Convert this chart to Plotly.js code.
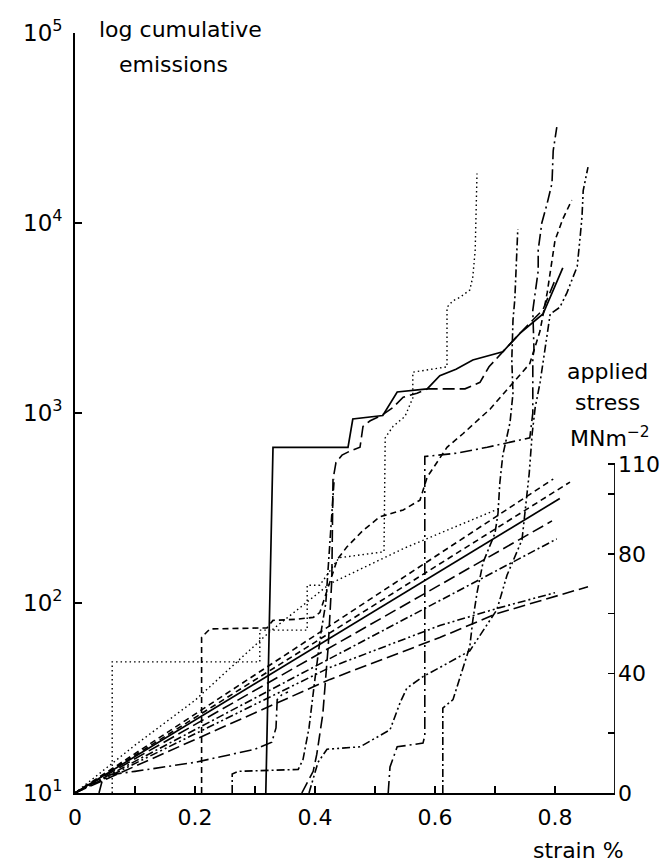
<!DOCTYPE html>
<html>
<head>
<meta charset="utf-8">
<script src="https://cdn.plot.ly/plotly-3.0.1.min.js"></script>
<style>html,body{margin:0;padding:0;background:#fff;}#chart{width:662px;height:865px;}</style>
</head>
<body>
<div id="chart"></div>
<script>
// ---- axis ticks ----
const strainTicks = [0, 0.2, 0.4, 0.6, 0.8];
const strainTickText = ['0', '0.2', '0.4', '0.6', '0.8'];
const strainMinorTicks = [0.1, 0.3, 0.5, 0.7];
const countTicks = [10, 100, 1000, 10000, 100000];
const countTickText = ['10<sup>1</sup>', '10<sup>2</sup>', '10<sup>3</sup>', '10<sup>4</sup>', '10<sup>5</sup>'];
const stressTicks = [0, 40, 80, 110];
const stressTickText = ['0', '40', '80', '110'];
const stressMinorTicks = [20, 60, 100];

// ---- log cumulative emissions (strain %, counts) ----
const emSolidX = [0.318, 0.33, 0.455, 0.463, 0.513, 0.537, 0.587, 0.608, 0.635, 0.663, 0.713, 0.742, 0.78, 0.813];
const emSolidY = [10, 660, 660, 930, 970, 1290, 1340, 1570, 1700, 1900, 2100, 2630, 3320, 5800];

const emDotX = [0.062, 0.062, 0.308, 0.308, 0.387, 0.387, 0.408, 0.44, 0.515, 0.517, 0.53, 0.55, 0.563, 0.563, 0.62, 0.62, 0.63, 0.642, 0.658, 0.663, 0.667, 0.67];
const emDotY = [10, 49, 49, 72, 72, 124, 124, 173, 186, 740, 850, 960, 1200, 1640, 1750, 3600, 3900, 4070, 4440, 5200, 7200, 18200];

const emDashX = [0.211, 0.211, 0.225, 0.32, 0.33, 0.367, 0.397, 0.408, 0.437, 0.453, 0.48, 0.508, 0.547, 0.575, 0.587, 0.62, 0.647, 0.67, 0.692, 0.758, 0.775, 0.787, 0.795, 0.80, 0.813, 0.828];
const emDashY = [10, 66, 73, 74, 81, 82, 84, 89, 169, 197, 241, 284, 309, 348, 460, 660, 780, 910, 1050, 1820, 2700, 4300, 6300, 8100, 10500, 13200];

const emLongDashDotX = [0.522, 0.525, 0.537, 0.58, 0.583, 0.583, 0.637, 0.687, 0.758, 0.763, 0.763, 0.765, 0.763, 0.767, 0.772, 0.772, 0.778, 0.787, 0.795, 0.797, 0.803];
const emLongDashDotY = [10, 13.7, 17.5, 18.3, 20, 590, 615, 660, 740, 1000, 1950, 2140, 3470, 4270, 5600, 7200, 10000, 12700, 16200, 24000, 32000];

const emDashDotX = [0.613, 0.613, 0.63, 0.64, 0.658, 0.663, 0.67, 0.68, 0.70, 0.705, 0.708, 0.713, 0.725, 0.73, 0.728, 0.73, 0.733, 0.738];
const emDashDotY = [10, 28, 31, 39, 59, 81, 113, 163, 233, 296, 427, 600, 890, 1270, 1900, 3090, 3960, 9300];

const emDashDotDotX = [0.39, 0.397, 0.405, 0.42, 0.475, 0.525, 0.542, 0.553, 0.58, 0.62, 0.658, 0.703, 0.72, 0.745, 0.753, 0.757, 0.762, 0.767, 0.775, 0.787, 0.792, 0.808, 0.82, 0.828, 0.837, 0.842, 0.845, 0.847, 0.855];
const emDashDotDotY = [10, 12, 14.5, 17, 17.5, 21.5, 30, 35.6, 41, 48, 56, 92, 140, 215, 380, 480, 780, 1070, 1440, 2640, 3320, 3600, 4300, 5000, 5900, 8500, 10800, 14800, 19700];

const emLongDashX = [0.378, 0.397, 0.403, 0.413, 0.422, 0.428, 0.43, 0.435, 0.445, 0.458, 0.475, 0.48, 0.492, 0.513, 0.53, 0.547, 0.57, 0.587, 0.65, 0.66, 0.675, 0.69, 0.713, 0.74, 0.78, 0.80];
const emLongDashY = [10, 13, 16, 26, 59, 132, 447, 550, 600, 630, 660, 850, 910, 980, 1070, 1210, 1270, 1340, 1340, 1380, 1450, 1750, 2100, 2600, 3500, 5000];

const emLowDashDotX = [0.04, 0.045, 0.06, 0.1, 0.2, 0.3, 0.328, 0.335, 0.337, 0.345, 0.355];
const emLowDashDotY = [10, 11.5, 12.5, 13, 14.5, 17, 18.5, 22, 31, 33, 34];

const emStepDashDotX = [0.262, 0.262, 0.272, 0.372, 0.38, 0.39, 0.40, 0.41, 0.418, 0.425, 0.432];
const emStepDashDotY = [10, 12.6, 13, 13.3, 15, 22, 40, 70, 100, 200, 450];

// ---- applied stress (strain %, MN m^-2) ----
const stDash1X = [0, 0.825], stDash1Y = [0, 104];
const stDash2X = [0, 0.797], stDash2Y = [0, 105];
const stSolidX = [0, 0.808], stSolidY = [0, 98.5];
const stLongDashX = [0, 0.795], stLongDashY = [0, 91];
const stDashDotX = [0, 0.803], stDashDotY = [0, 85];
const stDotX = [0, 0.1, 0.2, 0.325, 0.425, 0.55, 0.705];
const stDotY = [0, 16, 31, 54, 70, 82, 95];
const stLowDashDotX = [0, 0.425, 0.608, 0.708, 0.80];
const stLowDashDotY = [0, 42, 56, 62, 67];
const stLowLongDashX = [0, 0.425, 0.608, 0.703, 0.855];
const stLowLongDashY = [0, 38, 52, 60, 69];

// ---- styles ----
const DASH = '6px,4px', LONGDASH = '12px,5px', DASHDOT = '8px,3px,2px,3px',
      DASHDOTDOT = '8px,3px,2px,3px,2px,3px', LONGDASHDOT = '12px,4px,2px,4px', DOT = '1.5px,3px';

function tr(x, y, dash, axis, w) {
  return {x: x, y: y, type: 'scatter', mode: 'lines', yaxis: axis, hoverinfo: 'skip',
          line: {color: '#000', width: w || 1.6, dash: dash}};
}

const data = [
  tr(emSolidX, emSolidY, 'solid', 'y', 1.7),
  tr(emDotX, emDotY, DOT, 'y', 1.4),
  tr(emDashX, emDashY, DASH, 'y'),
  tr(emLongDashDotX, emLongDashDotY, LONGDASHDOT, 'y'),
  tr(emDashDotX, emDashDotY, DASHDOT, 'y'),
  tr(emDashDotDotX, emDashDotDotY, DASHDOTDOT, 'y'),
  tr(emLongDashX, emLongDashY, LONGDASH, 'y'),
  tr(emLowDashDotX, emLowDashDotY, LONGDASHDOT, 'y'),
  tr(emStepDashDotX, emStepDashDotY, DASHDOT, 'y'),
  tr(stDash1X, stDash1Y, DASH, 'y2'),
  tr(stDash2X, stDash2Y, DASH, 'y2'),
  tr(stSolidX, stSolidY, 'solid', 'y2', 1.7),
  tr(stLongDashX, stLongDashY, LONGDASH, 'y2'),
  tr(stDashDotX, stDashDotY, DASHDOT, 'y2'),
  tr(stDotX, stDotY, DOT, 'y2', 1.4),
  tr(stLowDashDotX, stLowDashDotY, DASHDOTDOT, 'y2'),
  tr(stLowLongDashX, stLowLongDashY, LONGDASH, 'y2')
];

const FONT = 'DejaVu Sans, Arial, sans-serif';
const minorStyle = {ticks: 'inside', ticklen: 7, tickwidth: 1.5, tickcolor: '#000', showgrid: false};
const layout = {
  width: 662, height: 865,
  margin: {l: 75, r: 47, t: 33, b: 72},
  paper_bgcolor: '#fff', plot_bgcolor: 'rgba(0,0,0,0)',
  showlegend: false,
  font: {family: FONT, size: 22, color: '#000'},
  xaxis: {
    range: [0, 0.9], tickmode: 'array', tickvals: strainTicks, ticktext: strainTickText,
    minor: Object.assign({tickmode: 'array', tickvals: strainMinorTicks}, minorStyle),
    ticks: 'inside', ticklen: 7, tickwidth: 1.5, tickcolor: '#000',
    showline: true, linecolor: '#000', linewidth: 1.8,
    showgrid: false, zeroline: false, ticklabelstandoff: 4,
    tickfont: {family: FONT, size: 22}
  },
  yaxis: {
    type: 'log', range: [1, 5], tickmode: 'array', tickvals: countTicks, ticktext: countTickText,
    ticks: 'inside', ticklen: 7, tickwidth: 1.5, tickcolor: '#000',
    showline: true, linecolor: '#000', linewidth: 1.8,
    showgrid: false, zeroline: false, ticklabelstandoff: 6,
    tickfont: {family: FONT, size: 23}
  },
  yaxis2: {
    overlaying: 'y', side: 'right', anchor: 'x',
    range: [0, 254.2], tickmode: 'array', tickvals: stressTicks, ticktext: stressTickText,
    minor: Object.assign({tickmode: 'array', tickvals: stressMinorTicks}, minorStyle),
    ticks: 'inside', ticklen: 7, tickwidth: 1.5, tickcolor: '#000',
    showline: false, showgrid: false, zeroline: false, ticklabelstandoff: 2,
    tickfont: {family: FONT, size: 22}
  },
  shapes: [
    {type: 'line', xref: 'x', yref: 'y2', x0: 0.9, x1: 0.9, y0: 0, y1: 110,
     line: {color: '#000', width: 1.8}}
  ],
  annotations: [
    {text: 'log cumulative', xref: 'paper', yref: 'paper', x: 0.196, y: 1.004, showarrow: false, xanchor: 'center', yanchor: 'middle', font: {family: FONT, size: 22}},
    {text: 'emissions', xref: 'paper', yref: 'paper', x: 0.183, y: 0.958, showarrow: false, xanchor: 'center', yanchor: 'middle', font: {family: FONT, size: 22}},
    {text: 'applied', xref: 'paper', yref: 'paper', x: 0.987, y: 0.554, showarrow: false, xanchor: 'center', yanchor: 'middle', font: {family: FONT, size: 22}},
    {text: 'stress', xref: 'paper', yref: 'paper', x: 0.987, y: 0.514, showarrow: false, xanchor: 'center', yanchor: 'middle', font: {family: FONT, size: 22}},
    {text: 'MNm<sup>\u22122</sup>', xref: 'paper', yref: 'paper', x: 0.99, y: 0.468, showarrow: false, xanchor: 'center', yanchor: 'middle', font: {family: FONT, size: 22}},
    {text: 'strain %', xref: 'paper', yref: 'paper', x: 0.932, y: -0.075, showarrow: false, xanchor: 'center', yanchor: 'middle', font: {family: FONT, size: 22}}
  ]
};

Plotly.newPlot('chart', data, layout, {staticPlot: true, displayModeBar: false});
</script>
</body>
</html>
